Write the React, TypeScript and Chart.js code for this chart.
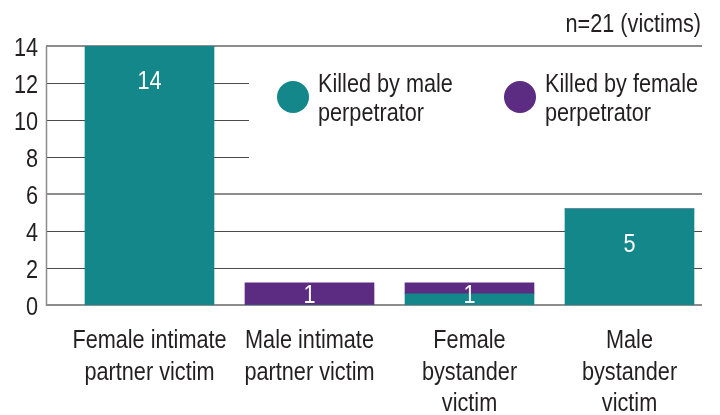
import React, { useEffect, useRef } from "react";
import { Chart, registerables } from "chart.js";

Chart.register(...registerables);

const categories: string[][] = [
  ["Female intimate", "partner victim"],
  ["Male intimate", "partner victim"],
  ["Female", "bystander", "victim"],
  ["Male", "bystander", "victim"],
];
const killedByMale = [14, 0, 0.6, 5.2];
const killedByFemale = [0, 1.2, 0.6, 0];
const barLabels = ["14", "1", "1", "5"];
const seriesNames = [
  ["Killed by male", "perpetrator"],
  ["Killed by female", "perpetrator"],
];
const yTicks = [0, 2, 4, 6, 8, 10, 12, 14];
const yTickLabels = ["0", "2", "4", "6", "8", "10", "12", "14"];
const noteText = "n=21 (victims)";

const TEAL = "#13878a";
const PURPLE = "#5b2c82";
const TEXT = "#231f20";
const FONT = "'Liberation Sans', Arial, sans-serif";
const FONT_SIZE = 25.5;
const NARROW = 0.85;

const AXIS_LEFT = 46;
const AXIS_RIGHT = 702;

function narrowText(
  ctx: CanvasRenderingContext2D,
  text: string,
  x: number,
  y: number,
  align: CanvasTextAlign,
  color: string
) {
  ctx.save();
  ctx.translate(x, y);
  ctx.scale(NARROW, 1);
  ctx.font = `${FONT_SIZE}px ${FONT}`;
  ctx.fillStyle = color;
  ctx.textAlign = align;
  ctx.textBaseline = "alphabetic";
  ctx.fillText(text, 0, 0);
  ctx.restore();
}

const gridPlugin = {
  id: "customGrid",
  beforeDatasetsDraw(chart: any) {
    const { ctx, scales } = chart;
    const ys = scales.y;
    ctx.save();
    yTicks.forEach((v) => {
      const py = Math.round(ys.getPixelForValue(v));
      const edge = v === 0 || v === 14 || v === 6;
      ctx.beginPath();
      ctx.strokeStyle = edge ? "#8c8c8c" : "#4a4a4a";
      ctx.lineWidth = edge ? 2 : 1;
      const yy = edge ? py : py + 0.5;
      ctx.moveTo(AXIS_LEFT, yy);
      ctx.lineTo(AXIS_RIGHT, yy);
      ctx.stroke();
    });
    const top = Math.round(ys.getPixelForValue(14));
    const bottom = Math.round(ys.getPixelForValue(0));
    ctx.beginPath();
    ctx.strokeStyle = "#8c8c8c";
    ctx.lineWidth = 1.5;
    ctx.moveTo(AXIS_LEFT + 0.5, top);
    ctx.lineTo(AXIS_LEFT + 0.5, bottom + 1);
    ctx.stroke();
    // white legend box covering the inner gridlines
    const boxTop = top + 2;
    const boxBottom = Math.round(ys.getPixelForValue(6)) - 2;
    ctx.fillStyle = "#ffffff";
    ctx.fillRect(249, boxTop, AXIS_RIGHT + 2 - 249, boxBottom - boxTop);
    ctx.restore();
  },
};

const textPlugin = {
  id: "texts",
  afterDatasetsDraw(chart: any) {
    const { ctx } = chart;
    const m0 = chart.getDatasetMeta(0).data;
    const m1 = chart.getDatasetMeta(1).data;
    const bottom = chart.scales.y.getPixelForValue(0);
    barLabels.forEach((lab, i) => {
      const a = m0[i];
      const b = m1[i];
      const top = Math.min(
        killedByMale[i] > 0 ? a.y : Infinity,
        killedByFemale[i] > 0 ? b.y : Infinity
      );
      const cy = Math.min(top + 34, (top + bottom) / 2);
      narrowText(ctx, lab, a.x, cy + 9, "center", "#ffffff");
    });
  },
  afterDraw(chart: any) {
    const { ctx, scales } = chart;
    yTicks.forEach((v, i) => {
      const py = scales.y.getPixelForValue(v);
      narrowText(ctx, yTickLabels[i], 38, py + 10, "right", TEXT);
    });
    categories.forEach((lines, i) => {
      const px = scales.x.getPixelForValue(i);
      lines.forEach((ln, j) => {
        narrowText(ctx, ln, px, 348 + j * 31.7, "center", TEXT);
      });
    });
    narrowText(ctx, noteText, 701, 32, "right", TEXT);
    const legendItems = [
      { color: TEAL, cx: 293, tx: 318, lines: seriesNames[0] },
      { color: PURPLE, cx: 520, tx: 545, lines: seriesNames[1] },
    ];
    legendItems.forEach((it) => {
      ctx.save();
      ctx.beginPath();
      ctx.fillStyle = it.color;
      ctx.arc(it.cx, 97, 16, 0, Math.PI * 2);
      ctx.fill();
      ctx.restore();
      narrowText(ctx, it.lines[0], it.tx, 92, "left", TEXT);
      narrowText(ctx, it.lines[1], it.tx, 121, "left", TEXT);
    });
  },
};

export default function App() {
  const ref = useRef<HTMLCanvasElement | null>(null);
  useEffect(() => {
    if (!ref.current) return;
    const chart = new Chart(ref.current, {
      type: "bar",
      data: {
        labels: categories,
        datasets: [
          {
            label: seriesNames[0].join(" "),
            data: killedByMale,
            backgroundColor: TEAL,
            barThickness: 129,
          },
          {
            label: seriesNames[1].join(" "),
            data: killedByFemale,
            backgroundColor: PURPLE,
            barThickness: 129,
          },
        ],
      },
      options: {
        responsive: false,
        animation: false,
        layout: { padding: { left: 0, right: 10.5, top: 46, bottom: 0 } },
        plugins: {
          legend: { display: false },
          tooltip: { enabled: false },
          title: { display: false },
        },
        scales: {
          x: {
            stacked: true,
            grid: { display: false },
            border: { display: false },
            ticks: { display: false, autoSkip: false },
            afterFit(scale: any) {
              scale.height = 110;
            },
          },
          y: {
            stacked: true,
            min: 0,
            max: 14,
            grid: { display: false },
            border: { display: false },
            ticks: { display: false, stepSize: 2 },
            afterFit(scale: any) {
              scale.width = 69.5;
            },
          },
        },
      },
      plugins: [gridPlugin, textPlugin],
    });
    return () => chart.destroy();
  }, []);
  return (
    <div style={{ position: "absolute", left: 0, top: 0, width: 720, height: 415, background: "#fff" }}>
      <canvas ref={ref} width={720} height={415} style={{ display: "block" }} />
    </div>
  );
}
